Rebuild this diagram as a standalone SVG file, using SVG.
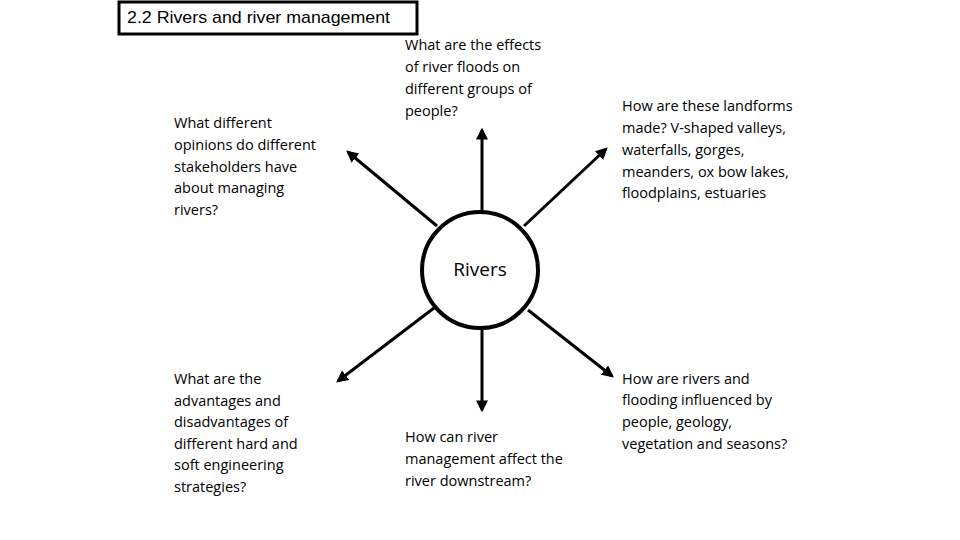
<svg xmlns="http://www.w3.org/2000/svg" width="960" height="540" viewBox="0 0 960 540">
<defs>
<marker id="ah" viewBox="0 0 10 10" refX="8" refY="5" markerWidth="4" markerHeight="4" orient="auto"><path d="M0,0 L10,5 L0,10 z" fill="#000"/></marker>
<style>
.t{font-family:"Open Sans","Liberation Sans",sans-serif;font-size:14.5px;fill:#000}
.c line{stroke:#000;stroke-width:3;marker-end:url(#ah)}
</style>
</defs>
<rect width="960" height="540" fill="#fff"/>
<g id="title"><rect x="119" y="2" width="298" height="32" fill="#fff" stroke="#000" stroke-width="3"/>
<text x="127" y="23" font-family="Liberation Sans Narrow,Liberation Sans,sans-serif" font-size="17" textLength="263" lengthAdjust="spacingAndGlyphs">2.2 Rivers and river management</text></g>
<g id="center"><circle cx="480" cy="270" r="58" fill="#fff" stroke="#000" stroke-width="4"/>
<text x="480" y="276" text-anchor="middle" font-family="Open Sans,Liberation Sans,sans-serif" font-size="19">Rivers</text></g>
<g class="c" id="connectors">
<line x1="482" y1="212" x2="482" y2="130"/>
<line x1="437" y1="226" x2="348" y2="152"/>
<line x1="524" y1="226" x2="606" y2="149"/>
<line x1="434" y1="308" x2="338" y2="381"/>
<line x1="482" y1="328" x2="482" y2="410"/>
<line x1="528" y1="310" x2="612" y2="376"/>
</g>
<g id="n1" class="t"><text x="174" y="128">What different</text><text x="174" y="150">opinions do different</text><text x="174" y="172">stakeholders have</text><text x="174" y="193">about managing</text><text x="174" y="215">rivers?</text></g>
<g id="n2" class="t"><text x="405" y="50">What are the effects</text><text x="405" y="72">of river floods on</text><text x="405" y="94">different groups of</text><text x="405" y="116">people?</text></g>
<g id="n3" class="t"><text x="622" y="111">How are these landforms</text><text x="622" y="133">made? V-shaped valleys,</text><text x="622" y="155">waterfalls, gorges,</text><text x="622" y="177">meanders, ox bow lakes,</text><text x="622" y="198">floodplains, estuaries</text></g>
<g id="n4" class="t"><text x="174" y="384">What are the</text><text x="174" y="406">advantages and</text><text x="174" y="427">disadvantages of</text><text x="174" y="449">different hard and</text><text x="174" y="470">soft engineering</text><text x="174" y="492">strategies?</text></g>
<g id="n5" class="t"><text x="405" y="442">How can river</text><text x="405" y="464">management affect the</text><text x="405" y="486">river downstream?</text></g>
<g id="n6" class="t"><text x="622" y="384">How are rivers and</text><text x="622" y="405">flooding influenced by</text><text x="622" y="427">people, geology,</text><text x="622" y="449">vegetation and seasons?</text></g>
</svg>
